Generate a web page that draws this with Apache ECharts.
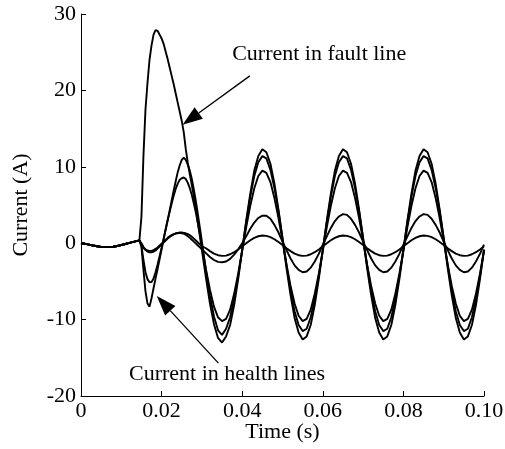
<!DOCTYPE html>
<html>
<head>
<meta charset="utf-8">
<script src="https://cdn.jsdelivr.net/npm/echarts@6/dist/echarts.min.js"></script>
<style>
html,body{margin:0;padding:0;background:#fff;}
#chart{width:505px;height:449px;}
</style>
</head>
<body>
<div id="chart"></div>
<script>
// ---- time samples (s) ----
const timePre = [0,0.001,0.002,0.003,0.004,0.005,0.006,0.007,0.008,0.009,0.010,0.011,0.012,0.013,0.014];
const timeFault = [0.0145,0.015,0.0155,0.016,0.0165,0.017,0.0175,0.018,0.0185,0.019,0.0195,0.020,0.0205,0.021,0.0215,0.022,0.0225,0.023,0.0235,0.024,0.0245,0.025,0.0255,0.026,0.0265,0.027,0.0275,0.028,0.0285,0.029,0.0295,0.030];
const timeSteady = [0.031,0.032,0.033,0.034,0.035,0.036,0.037,0.038,0.039,0.040,
  0.041,0.042,0.043,0.044,0.045,0.046,0.047,0.048,0.049,0.050,
  0.051,0.052,0.053,0.054,0.055,0.056,0.057,0.058,0.059,0.060,
  0.061,0.062,0.063,0.064,0.065,0.066,0.067,0.068,0.069,0.070,
  0.071,0.072,0.073,0.074,0.075,0.076,0.077,0.078,0.079,0.080,
  0.081,0.082,0.083,0.084,0.085,0.086,0.087,0.088,0.089,0.090,
  0.091,0.092,0.093,0.094,0.095,0.096,0.097,0.098,0.099,0.100];

// ---- pre-fault current (A), common to all lines ----
const preFault = [0,-0.08,-0.18,-0.3,-0.4,-0.48,-0.52,-0.52,-0.47,-0.37,-0.24,-0.1,0.05,0.18,0.3];

// ---- current in fault line (A) ----
const faultTransient = [0.4,3.5,11.5,17.5,21,24,25.9,27.3,27.9,27.8,27.3,26.8,26.1,25.1,24.1,23.0,21.9,20.8,19.6,18.4,17.2,16.0,14.5,12.3,10.5,9.0,7.6,6.1,4.5,2.7,0.9,-0.9];
const faultSteady = [-4.5,-7.9,-10.6,-12.4,-13.0,
  -12.2,-10.7,-8.1,-4.7,-0.9,3.0,6.5,9.5,11.4,12.3,11.9,10.4,7.8,4.4,0.6,-3.3,-6.8,-9.8,-11.7,-12.6,
  -12.2,-10.7,-8.1,-4.7,-0.9,3.0,6.5,9.5,11.4,12.3,11.9,10.4,7.8,4.4,0.6,-3.3,-6.8,-9.8,-11.7,-12.6,
  -12.2,-10.7,-8.1,-4.7,-0.9,3.0,6.5,9.5,11.4,12.3,11.9,10.4,7.8,4.4,0.6,-3.3,-6.8,-9.8,-11.7,-12.6,
  -12.2,-10.7,-8.1,-4.7,-0.9];

// ---- currents in healthy lines (A) ----
const health1Transient = [0.35,-0.5,-3.5,-6.3,-7.9,-8.3,-7.2,-5.9,-4.6,-3.4,-2.1,-0.8,0.5,1.8,3.0,4.3,5.6,6.9,8.1,9.3,10.2,10.9,11.2,10.9,10.3,9.5,8.4,7.0,5.5,3.8,2.0,0.2];
const health1Steady = [-3.6,-6.9,-9.6,-11.4,-12.0,
  -11.2,-9.7,-7.3,-4.3,-0.8,2.8,6.1,8.8,10.6,11.4,11.1,9.6,7.2,4.2,0.7,-2.9,-6.2,-8.9,-10.7,-11.5,
  -11.2,-9.7,-7.3,-4.3,-0.8,2.8,6.1,8.8,10.6,11.4,11.1,9.6,7.2,4.2,0.7,-2.9,-6.2,-8.9,-10.7,-11.5,
  -11.2,-9.7,-7.3,-4.3,-0.8,2.8,6.1,8.8,10.6,11.4,11.1,9.6,7.2,4.2,0.7,-2.9,-6.2,-8.9,-10.7,-11.5,
  -11.2,-9.7,-7.3,-4.3,-0.8];

const health2Transient = [0.35,-0.3,-2.2,-3.8,-4.7,-5.1,-5.1,-4.6,-3.8,-2.8,-1.7,-0.6,0.6,1.8,3.0,4.1,5.2,6.2,7.1,7.8,8.3,8.5,8.6,8.4,7.9,7.2,6.3,5.2,4.0,2.6,1.2,-0.3];
const health2Steady = [-3.4,-6.1,-8.3,-9.7,-10.2,
  -9.9,-8.7,-6.6,-4.0,-1.0,2.1,4.9,7.2,8.8,9.5,9.2,8.0,5.9,3.3,0.3,-2.8,-5.6,-7.9,-9.5,-10.2,
  -9.9,-8.7,-6.6,-4.0,-1.0,2.1,4.9,7.2,8.8,9.5,9.2,8.0,5.9,3.3,0.3,-2.8,-5.6,-7.9,-9.5,-10.2,
  -9.9,-8.7,-6.6,-4.0,-1.0,2.1,4.9,7.2,8.8,9.5,9.2,8.0,5.9,3.3,0.3,-2.8,-5.6,-7.9,-9.5,-10.2,
  -9.9,-8.7,-6.6,-4.0,-1.0];

const health3Transient = [0.35,-0.1,-0.6,-0.9,-1.1,-1.2,-1.2,-1.1,-0.95,-0.7,-0.45,-0.2,0.1,0.35,0.6,0.8,1.0,1.15,1.25,1.3,1.35,1.3,1.25,1.1,0.9,0.7,0.45,0.2,-0.05,-0.3,-0.55,-0.8];
const health3Steady = [-1.3,-1.8,-2.2,-2.45,-2.5,-2.4,-2.05,-1.5,-0.8,0.0,0.9,1.9,2.7,3.3,3.6,3.6,3.2,2.4,1.4,0.2,
  -0.9,-2.0,-2.9,-3.5,-3.8,-3.7,-3.2,-2.4,-1.4,-0.2,0.9,2.0,2.9,3.5,3.8,3.7,3.2,2.4,1.4,0.2,
  -0.9,-2.0,-2.9,-3.5,-3.8,-3.7,-3.2,-2.4,-1.4,-0.2,0.9,2.0,2.9,3.5,3.8,3.7,3.2,2.4,1.4,0.2,
  -0.9,-2.0,-2.9,-3.5,-3.8,-3.7,-3.2,-2.4,-1.4,-0.2];

const health4Transient = [0.35,0.0,-0.5,-0.8,-0.95,-1.0,-1.0,-0.9,-0.75,-0.55,-0.3,-0.05,0.2,0.45,0.7,0.9,1.05,1.2,1.3,1.35,1.4,1.4,1.35,1.3,1.2,1.05,0.85,0.6,0.35,0.1,-0.15,-0.4];
const health4Steady = [-0.66,-1.04,-1.36,-1.57,-1.66,-1.62,-1.45,-1.18,-0.82,-0.41,0.0,0.38,0.70,0.91,1.0,0.96,0.79,0.52,0.16,-0.25,
  -0.66,-1.04,-1.36,-1.57,-1.66,-1.62,-1.45,-1.18,-0.82,-0.41,0.0,0.38,0.70,0.91,1.0,0.96,0.79,0.52,0.16,-0.25,
  -0.66,-1.04,-1.36,-1.57,-1.66,-1.62,-1.45,-1.18,-0.82,-0.41,0.0,0.38,0.70,0.91,1.0,0.96,0.79,0.52,0.16,-0.25,
  -0.66,-1.04,-1.36,-1.57,-1.66,-1.62,-1.45,-1.18,-0.82,-0.41];

// ---- axis ticks ----
const xTicks = [0,0.02,0.04,0.06,0.08,0.10];
const yTicks = [-20,-10,0,10,20,30];

// ---- annotations (data coordinates) ----
const annotations = [
  {text:'Current in fault line', textAt:[0.0375,24.8], from:[0.0419,21.9], to:[0.0252,15.5]},
  {text:'Current in health lines', textAt:[0.0119,-17.2], from:[0.0341,-15.7], to:[0.0188,-6.9]}
];

const times = timePre.concat(timeFault, timeSteady);
function pairs(pre, tr, st){
  const v = pre.concat(tr, st);
  return times.map((t,i)=>[t, v[i]]);
}
const seriesValues = [
  pairs(preFault, health4Transient, health4Steady),
  pairs(preFault, health3Transient, health3Steady),
  pairs(preFault, health2Transient, health2Steady),
  pairs(preFault, health1Transient, health1Steady),
  pairs(preFault, faultTransient, faultSteady)
];

const FONT = '"Liberation Serif", "Times New Roman", serif';
const FS = 22;
const chart = echarts.init(document.getElementById('chart'), null, {renderer:'canvas'});
chart.setOption({
  animation:false,
  backgroundColor:'#fff',
  grid:{left:81, right:21, top:14, bottom:53, containLabel:false, outerBoundsMode:'none'},
  xAxis:{
    type:'value', min:xTicks[0], max:xTicks[xTicks.length-1], interval:0.02,
    name:'Time (s)', nameLocation:'middle', nameGap:25, nameMoveOverlap:false,
    nameTextStyle:{fontFamily:FONT, fontSize:FS, color:'#000'},
    axisLine:{show:true, onZero:false, lineStyle:{color:'#000', width:1}},
    axisTick:{show:true, inside:true, length:5, lineStyle:{color:'#000'}},
    axisLabel:{fontFamily:FONT, fontSize:FS, color:'#000', margin:4,
      formatter:v=> v===0 ? '0' : v.toFixed(2)},
    splitLine:{show:false}
  },
  yAxis:{
    type:'value', min:yTicks[0], max:yTicks[yTicks.length-1], interval:10,
    name:'Current (A)', nameLocation:'middle', nameGap:49, nameRotate:90, nameMoveOverlap:false,
    nameTextStyle:{fontFamily:FONT, fontSize:FS, color:'#000'},
    axisLine:{show:true, onZero:false, lineStyle:{color:'#000', width:1}},
    axisTick:{show:true, inside:true, length:5, lineStyle:{color:'#000'}},
    axisLabel:{fontFamily:FONT, fontSize:FS, color:'#000', margin:5},
    splitLine:{show:false}
  },
  series: seriesValues.map(d=>({
    type:'line', data:d, showSymbol:false, symbol:'none', smooth:false,
    lineStyle:{color:'#000', width:1.9}, z:2
  }))
});

// annotations: arrows and text placed via the chart's own coordinate conversion
const g = [];
annotations.forEach(a=>{
  const tp = chart.convertToPixel({gridIndex:0}, a.textAt);
  const p1 = chart.convertToPixel({gridIndex:0}, a.from);
  const p2 = chart.convertToPixel({gridIndex:0}, a.to);
  const dx = p2[0]-p1[0], dy = p2[1]-p1[1];
  const L = Math.sqrt(dx*dx+dy*dy), ux = dx/L, uy = dy/L;
  const hl = 20, hw = 7;
  const bx = p2[0]-ux*hl, by = p2[1]-uy*hl;
  g.push({type:'line', shape:{x1:p1[0], y1:p1[1], x2:bx, y2:by}, style:{stroke:'#000', lineWidth:1.3}, z:10});
  g.push({type:'polygon', shape:{points:[[p2[0],p2[1]],[bx-uy*hw, by+ux*hw],[bx+uy*hw, by-ux*hw]]}, style:{fill:'#000'}, z:10});
  g.push({type:'text', x:tp[0], y:tp[1], style:{text:a.text, font:FS+'px '+FONT, fill:'#000', textAlign:'left', textVerticalAlign:'middle'}, z:10});
});
chart.setOption({graphic:g});
</script>
</body>
</html>
